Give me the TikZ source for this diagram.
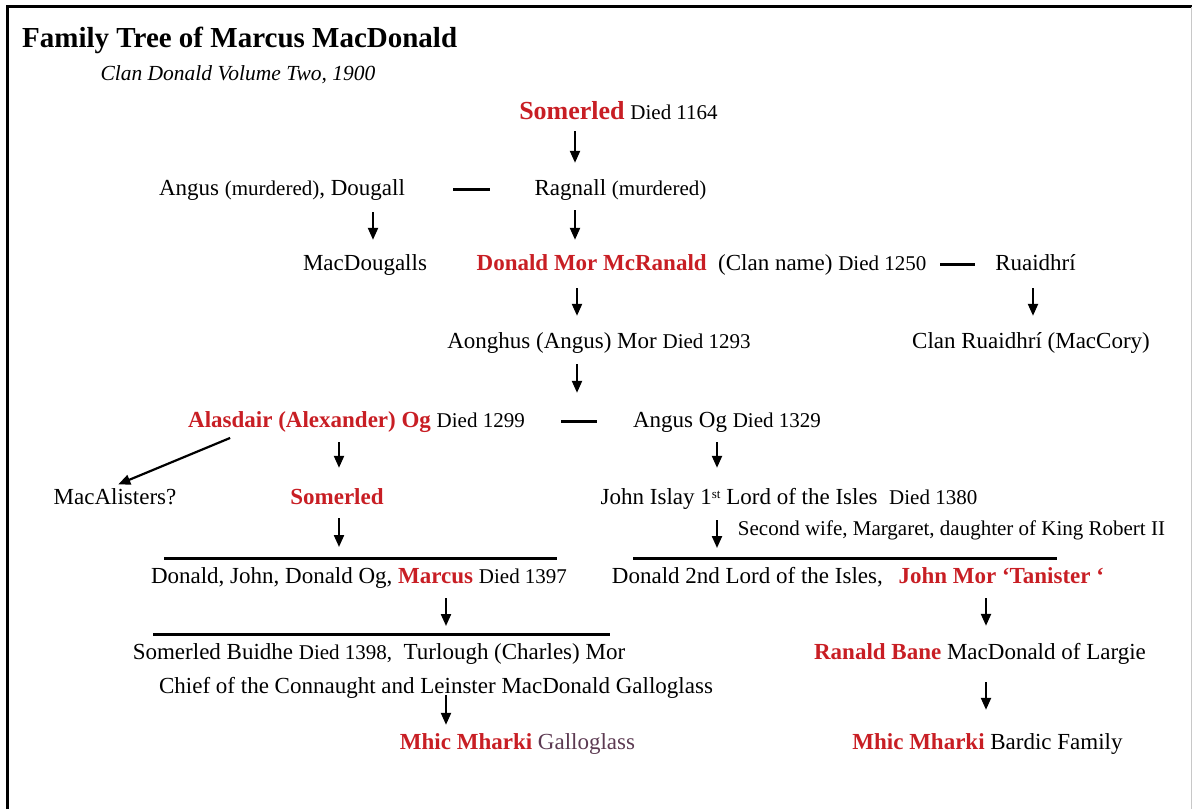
\documentclass[tikz,border=0pt]{standalone}
\usepackage{fontspec}
\setmainfont{Liberation Serif}
\usepackage{tikz}
\usetikzlibrary{arrows.meta}
\definecolor{namered}{RGB}{200,30,36}
\definecolor{gallocol}{RGB}{92,58,82}
\definecolor{edgegrey}{RGB}{200,200,200}
\newcommand{\fsz}[1]{\fontsize{#1}{#1}\selectfont}
\newcommand{\nm}[1]{\textcolor{namered}{\bfseries #1}}
\newcommand{\dd}[1]{{\fsz{21}#1}}

\begin{document}
\begin{tikzpicture}[
        x=1pt, y=-1pt,
        every node/.style={inner sep=0pt, anchor=base, text height=16pt, text depth=5pt, font=\fsz{23}},
        arr/.style={-{Triangle[length=12pt,width=10pt]}, line width=2.2pt, shorten <=7pt, shorten >=16pt},
        bar/.style={line width=3pt}
      ]
      \useasboundingbox (0,0) rectangle (1192,809);
      % frame
      \draw[line width=3pt] (7.5,809) -- (7.5,6.5) -- (1192,6.5);
      \draw[edgegrey, line width=1pt] (1191,6.5) -- (1191,809);

      \node[anchor=base west, font=\fsz{29}\bfseries] (title) at (22,47) {Family Tree of Marcus MacDonald};
      \node[font=\fsz{21.5}\itshape] (source) at (238,80) {Clan Donald Volume Two, 1900};

      \node (somerled) at (618.5,119) {\nm{\fsz{26}Somerled} \dd{Died 1164}};
      \node (angus) at (282,195) {Angus \dd{(murdered)}, Dougall};
      \node (ragnall) at (620.5,195) {Ragnall \dd{(murdered)}};
      \node (dougalls) at (365,270) {MacDougalls};
      \node (donaldmor) at (701.5,270) {\nm{Donald Mor McRanald}\ \ (Clan name) \dd{Died 1250}};
      \node (ruaidhri) at (1035.5,270) {Ruaidhrí};
      \node (aonghus) at (599,348) {Aonghus (Angus) Mor \dd{Died 1293}};
      \node (clanruaidhri) at (1031,348) {Clan Ruaidhrí (MacCory)};
      \node (alasdair) at (356.5,427) {\nm{Alasdair (Alexander) Og} \dd{Died 1299}};
      \node (angusog) at (727,427) {Angus Og \dd{Died 1329}};
      \node (macalisters) at (115,504) {MacAlisters?};
      \node (somerledii) at (337,504) {\nm{Somerled}};
      \node (johnislay) at (789,504) {John Islay 1{\fsz{13}\raisebox{6pt}{st}} Lord of the Isles\ \ \dd{Died 1380}};
      \node[font=\fsz{21}] (wife) at (951.5,535) {Second wife, Margaret, daughter of King Robert II};
      \node (marcus) at (359,583) {Donald, John, Donald Og, \nm{Marcus} \dd{Died 1397}};
      \node (tanister) at (858,583) {Donald 2nd Lord of the Isles,\hspace{10pt} \nm{John Mor ‘Tanister ‘}};
      \node (buidhe) at (379,659) {Somerled Buidhe \dd{Died 1398,}\ \ Turlough (Charles) Mor};
      \node (chief) at (436,693) {Chief of the Connaught and Leinster MacDonald Galloglass};
      \node (galloglass) at (517.5,749) {\nm{Mhic Mharki} \textcolor{gallocol}{Galloglass}};
      \node (ranald) at (980,659) {\nm{Ranald Bane} MacDonald of Largie};
      \node (bardic) at (987.5,749) {\nm{Mhic Mharki} Bardic Family};

      % bars over the children
      \coordinate (bar1l) at (164,558);
      \coordinate (bar1r) at (557,558);
      \coordinate (bar2l) at (633,558);
      \coordinate (bar2r) at (1057,558);
      \coordinate (bar3l) at (153,634);
      \coordinate (bar3r) at (610,634);
      \draw[bar] (bar1l) -- (bar1r);
      \draw[bar] (bar2l) -- (bar2r);
      \draw[bar] (bar3l) -- (bar3r);

      % couples
      \draw[bar] (453,0 |- angus) -- (490,0 |- ragnall);
      \draw[bar] (940,0 |- donaldmor) -- (975,0 |- ruaidhri);
      \draw[bar] (561,0 |- alasdair) -- (597,0 |- angusog);

      % descent
      \draw[arr] (somerled.south -| 575,0) -- (ragnall.north -| 575,0);
      \draw[arr, shorten <=12pt, shorten >=14pt] (angus.south -| 373,0) -- (dougalls.north -| 373,0);
      \draw[arr, shorten <=10pt, shorten >=14pt] (ragnall.south -| 575,0) -- (donaldmor.north -| 575,0);
      \draw[arr, shorten <=13pt] (ruaidhri.south -| 1033,0) -- (clanruaidhri.north -| 1033,0);
      \draw[arr, shorten <=13pt] (donaldmor.south -| 577,0) -- (aonghus.north -| 577,0);
      \draw[arr, shorten <=11pt, shorten >=18pt] (aonghus.south -| 577,0) -- (alasdair.north -| 577,0);
      \draw[arr, shorten <=15pt, shorten >=9pt] (alasdair.south -| 244,0) -- (macalisters.north -| 110,0);
      \draw[arr, shorten <=10pt, shorten >=20pt] (alasdair.south -| 339,0) -- (somerledii.north -| 339,0);
      \draw[arr, shorten <=10pt, shorten >=20pt] (angusog.south -| 717,0) -- (johnislay.north -| 717,0);
      \draw[arr, shorten <=9pt, shorten >=11pt] (somerledii.south -| 339,0) -- (339,0 |- bar1l);
      \draw[arr, shorten <=11pt, shorten >=10pt] (johnislay.south -| 717,0) -- (717,0 |- bar2l);
      \draw[arr, shorten <=10pt, shorten >=8pt] (marcus.south -| 446,0) -- (446,0 |- bar3l);
      \draw[arr, shorten <=10pt, shorten >=17pt] (tanister.south -| 986,0) -- (ranald.north -| 986,0);
      \draw[arr, shorten <=-3pt, shorten >=8pt] (chief.south -| 446,0) -- (galloglass.north -| 446,0);
      \draw[arr, shorten <=18pt, shorten >=23pt] (ranald.south -| 986,0) -- (bardic.north -| 986,0);
\end{tikzpicture}
\end{document}
